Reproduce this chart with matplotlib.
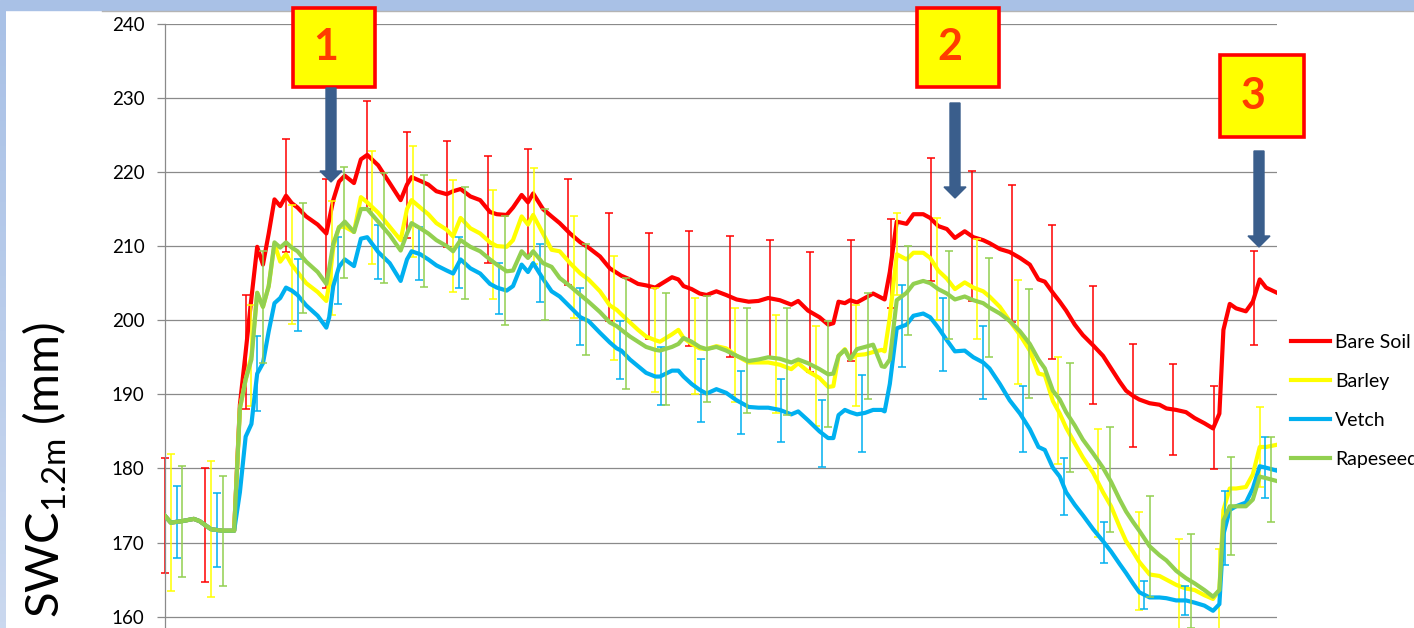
import numpy as np
import matplotlib
matplotlib.use("Agg")
import matplotlib.pyplot as plt
from matplotlib.patches import Rectangle, FancyArrow
from matplotlib.lines import Line2D

plt.rcParams['font.family'] = ['Lato', 'DejaVu Sans']
plt.rcParams['mathtext.default'] = 'regular'

# days since first reading (daily series)
DAY = [0, 1, 3, 5, 6, 8, 10, 12, 13, 14,
       15, 16, 17, 18, 19, 20, 21, 22, 23, 24.5,
       26.5, 28, 28.5, 29.2, 30.2, 31.2, 32.8, 34, 35.1, 37,
       39, 40.9, 42, 42.8, 44.3, 45.7, 47.1, 48.9, 50, 51.3,
       53, 54.7, 56.4, 57.6, 59.3, 60.4, 61.9, 63, 63.9, 65.6,
       67.1, 68.5, 70.3, 72.1, 73.5, 75.5, 77.2, 78.4, 79.2, 80.7,
       82.1, 83.5, 85.1, 85.9, 88, 89.1, 90, 91.4, 92.8, 94,
       95.7, 97.4, 99.2, 101.3, 103, 104.7, 106.7, 108.7, 109.9, 111.6,
       113.6, 115.1, 116, 116.9, 118, 118.9, 120.1, 121.5, 122.9, 124.4,
       124.9, 125.8, 127, 128.7, 129.9, 131.6, 132.8, 134.2, 135.7, 137.1,
       138.8, 140.3, 142, 143.1, 144.9, 146.6, 148.4, 150.1, 151.6, 152.7,
       154.1, 155.3, 156.4, 157.9, 159.3, 161.1, 162.8, 164.2, 165.7, 166.8,
       168, 169.1, 170.9, 172.6, 173.8, 175.5, 177.2, 178.7, 180.4, 181.9,
       183, 183.7, 184.8, 185.9, 187.6, 188.8, 190, 191.1, 193]

bare_soil = [173.6, 172.7, 172.9, 173.2, 172.9, 171.8, 171.6, 171.6, 188.6, 195.7,
             203.0, 209.9, 207.5, 211.7, 216.3, 215.4, 216.8, 215.8, 215.2, 214.0,
             212.9, 211.7, 213.6, 216.2, 218.7, 219.5, 218.5, 221.7, 222.3, 220.9,
             218.5, 216.2, 218.3, 219.3, 218.8, 218.3, 217.4, 217.0, 217.4, 217.7,
             216.7, 216.2, 214.6, 214.3, 214.2, 215.2, 216.9, 215.9, 217.1, 215.0,
             214.0, 213.1, 211.7, 210.5, 209.8, 208.6, 207.0, 206.4, 206.0, 205.5,
             204.9, 204.7, 204.4, 204.8, 205.8, 205.5, 204.6, 204.2, 203.6, 203.4,
             203.9, 203.4, 202.8, 202.5, 202.6, 203.0, 202.7, 202.1, 202.6, 201.3,
             200.4, 199.4, 199.6, 202.5, 202.3, 202.7, 202.4, 203.0, 203.6, 203.0,
             202.8, 206.5, 213.3, 213.0, 214.3, 214.3, 213.8, 212.7, 212.3, 211.1,
             212.0, 211.2, 210.8, 210.4, 209.6, 209.2, 208.4, 207.5, 205.5, 205.2,
             203.7, 202.5, 201.3, 199.4, 198.0, 196.6, 195.2, 193.5, 191.7, 190.5,
             189.8, 189.3, 188.8, 188.6, 188.1, 187.9, 187.6, 186.8, 186.1, 185.4,
             187.4, 198.7, 202.2, 201.6, 201.2, 202.5, 205.5, 204.4, 203.7]

barley = [173.6, 172.7, 172.9, 173.2, 172.9, 171.8, 171.6, 171.6, 188.1, 192.0,
          195.2, 203.7, 201.8, 204.6, 210.3, 207.9, 208.9, 207.5, 206.5, 205.0,
          203.8, 202.6, 205.0, 209.8, 212.6, 212.6, 211.9, 216.6, 215.9, 214.5,
          212.6, 210.8, 215.0, 216.2, 215.2, 214.3, 213.1, 212.2, 211.3, 213.8,
          212.4, 211.7, 210.5, 210.0, 209.9, 210.8, 214.0, 212.9, 214.2, 211.7,
          209.5, 209.3, 207.7, 206.3, 205.5, 203.9, 202.0, 201.4, 200.8, 199.7,
          198.7, 197.8, 197.3, 197.1, 198.1, 198.7, 197.6, 196.8, 196.2, 196.1,
          196.5, 196.2, 195.2, 194.3, 194.3, 194.3, 194.0, 193.4, 194.2, 193.1,
          192.2, 191.0, 191.1, 195.2, 196.1, 194.8, 195.3, 195.4, 195.7, 196.0,
          195.8, 200.4, 208.9, 208.2, 209.1, 209.1, 208.4, 206.7, 205.6, 204.2,
          205.1, 204.4, 203.9, 203.2, 201.8, 199.9, 198.0, 195.9, 192.8, 192.6,
          189.1, 187.4, 185.5, 183.4, 181.5, 179.4, 176.8, 174.9, 172.1, 170.2,
          168.8, 167.4, 165.7, 165.5, 165.0, 164.3, 163.8, 163.6, 162.9, 162.4,
          163.6, 174.4, 177.3, 177.3, 177.5, 179.2, 182.9, 182.9, 183.2]

vetch = [173.6, 172.7, 172.9, 173.2, 172.9, 171.8, 171.6, 171.6, 176.8, 184.3,
         186.0, 192.8, 194.2, 198.5, 202.3, 203.0, 204.4, 204.0, 203.4, 202.0,
         200.6, 199.0, 200.4, 204.6, 207.2, 208.2, 207.3, 211.0, 211.2, 209.2,
         207.7, 205.3, 208.2, 209.3, 208.9, 208.2, 207.4, 206.7, 206.3, 208.2,
         207.0, 206.3, 204.9, 204.4, 204.0, 204.6, 207.5, 206.5, 207.7, 205.6,
         203.9, 203.2, 201.8, 200.4, 199.9, 198.3, 197.0, 196.2, 195.9, 194.7,
         193.8, 192.9, 192.4, 192.4, 193.2, 193.2, 192.4, 191.4, 190.6, 190.1,
         190.7, 190.2, 189.2, 188.3, 188.2, 188.2, 187.9, 187.3, 187.7, 186.5,
         185.0, 184.1, 184.1, 187.2, 187.9, 187.6, 187.3, 187.5, 187.9, 187.9,
         187.7, 191.4, 198.9, 199.4, 200.6, 200.9, 200.4, 199.0, 197.3, 195.8,
         195.9, 195.0, 194.3, 193.5, 191.4, 189.2, 187.4, 185.3, 182.9, 182.5,
         180.1, 178.9, 176.8, 175.1, 173.7, 171.8, 170.2, 168.8, 167.1, 165.9,
         164.5, 163.3, 162.6, 162.6, 162.5, 162.2, 162.2, 161.9, 161.5, 160.8,
         161.7, 171.1, 174.4, 174.9, 175.4, 177.3, 180.3, 180.1, 179.7]

rapeseed = [173.6, 172.7, 172.9, 173.2, 172.9, 171.8, 171.6, 171.6, 188.1, 192.0,
            194.7, 203.7, 201.8, 204.6, 210.5, 209.8, 210.5, 209.8, 209.3, 207.9,
            206.5, 204.9, 207.0, 210.3, 212.5, 213.3, 211.9, 215.0, 215.0, 213.3,
            211.5, 209.4, 211.7, 213.1, 212.4, 211.7, 210.8, 210.0, 209.3, 210.8,
            209.9, 209.3, 208.2, 207.5, 206.6, 206.7, 209.3, 208.4, 209.3, 207.7,
            207.2, 205.7, 204.6, 203.4, 202.5, 201.1, 199.7, 199.2, 198.7, 197.8,
            197.1, 196.4, 196.0, 195.9, 196.4, 196.8, 197.6, 197.1, 196.4, 196.1,
            196.4, 195.9, 195.2, 194.5, 194.7, 195.0, 194.8, 194.3, 194.7, 194.2,
            193.4, 192.7, 192.8, 195.2, 196.0, 194.7, 196.1, 196.4, 196.7, 193.8,
            193.7, 194.7, 202.7, 203.7, 204.9, 205.3, 205.0, 204.2, 203.6, 202.8,
            203.2, 202.7, 202.3, 201.7, 200.9, 199.9, 198.5, 196.8, 194.7, 193.5,
            190.5, 189.3, 187.6, 185.8, 183.9, 182.0, 180.1, 178.2, 175.8, 174.2,
            172.8, 171.6, 169.5, 168.3, 167.6, 166.2, 165.2, 164.5, 163.6, 162.7,
            163.6, 173.0, 174.9, 174.9, 174.9, 175.8, 178.9, 178.7, 178.3]

# weekly standard deviations (bars shifted by one day per treatment)
WEEK = np.arange(28) * 7
sd_bare = [7.75, 7.65, 7.7, 7.6, 7.4, 7.3, 7.15, 7.2, 7.2, 7.2, 7.15, 7.25, 7.15, 7.75,
           8.1, 7.9, 8.1, 8.15, 6.0, 8.3, 8.8, 9.25, 9.1, 8.0, 6.95, 6.2, 5.6, 6.4]
sd_barley = [9.2, 9.2, 6.8, 8.0, 7.7, 7.65, 7.5, 7.55, 7.35, 6.5, 6.9, 7.0, 6.95, 6.45,
             6.4, 6.6, 6.8, 6.85, 5.5, 6.9, 6.75, 7.0, 7.25, 7.3, 6.65, 6.3, 5.5, 5.35]
sd_vetch = [4.9, 5.0, 5.05, 4.9, 4.5, 3.7, 3.55, 3.45, 3.4, 3.95, 3.85, 3.9, 3.9, 4.2,
            4.25, 4.3, 4.5, 5.15, 5.55, 4.95, 4.9, 4.5, 3.8, 2.75, 1.85, 1.9, 5.0, 4.15]
sd_rape = [7.5, 7.45, 7.55, 7.4, 7.5, 7.4, 7.55, 7.55, 7.35, 7.5, 7.5, 7.5, 7.55, 7.1,
           7.1, 7.2, 7.2, 7.15, 5.95, 5.95, 6.65, 7.35, 7.4, 7.1, 6.8, 6.35, 6.6, 5.75]

names = ["Bare Soil", "Barley", "Vetch", "Rapeseed"]
series = [bare_soil, barley, vetch, rapeseed]
sds = [sd_bare, sd_barley, sd_vetch, sd_rape]
colors = ["#ff0000", "#ffff00", "#00b0f0", "#92d050"]

W, H = 1414, 628


def fx(px):
    return px / W


def fy(py):
    return 1 - py / H


fig = plt.figure(figsize=(W / 100, H / 100), dpi=100)
fig.patch.set_facecolor("white")

# slide background strips
fig.patches.append(Rectangle((0, fy(10)), 1, 10 / H, transform=fig.transFigure,
                             color="#a9c1e6", zorder=0))
fig.lines.append(Line2D([fx(102), 1], [fy(11), fy(11)], transform=fig.transFigure,
                        color="#b4b4b4", lw=1))
strip = fig.add_axes([0, 0, fx(6), fy(10)])
strip.imshow(np.linspace(0, 1, 100).reshape(-1, 1), aspect="auto",
             cmap=matplotlib.colors.LinearSegmentedColormap.from_list("s", ["#a9c1e6", "#cad8ef"]))
strip.axis("off")

ax = fig.add_axes([fx(165), 0, fx(1277) - fx(165), fy(23.7)])
ax.set_xlim(0, 193)
ax.set_ylim(158.48, 240)
ax.set_yticks(np.arange(160, 241, 10))
ax.set_xticks([])
ax.grid(axis="y", color="#8a8a8a", lw=0.9)
ax.set_axisbelow(True)
for s in ["top", "right", "bottom"]:
    ax.spines[s].set_visible(False)
ax.spines["left"].set_color("#8a8a8a")
ax.spines["left"].set_linewidth(0.9)
ax.tick_params(axis="y", length=5.8, width=0.9, color="#8a8a8a", pad=9,
               labelsize=13.5, labelcolor="black")

handles = []
for i, (name, vals, sd, c) in enumerate(zip(names, series, sds, colors)):
    bx = WEEK + i
    by = np.interp(bx, DAY, vals)
    ax.errorbar(bx, by, yerr=sd, fmt="none", ecolor=c, elinewidth=1.1,
                capsize=2.8, capthick=1.1, zorder=2 + i, clip_on=False)
    ln, = ax.plot(DAY, vals, color=c, lw=3, zorder=2.5 + i, label=name,
                  solid_joinstyle="round")
    handles.append(ln)

ax.legend(handles=handles, loc="center left", bbox_to_anchor=(fx(1291), fy(401)),
          bbox_transform=fig.transFigure, frameon=False, fontsize=14,
          handlelength=2.0, handletextpad=0.26, labelspacing=1.13,
          borderpad=0, borderaxespad=0)

fig.text(fx(45), fy(470), r"SWC$_{1.2m}$ (mm)", rotation=90, fontsize=34,
         ha="center", va="center")

# numbered boxes and arrows
boxes = [("1", 293, 8, 375, 87, 326), ("2", 917, 8, 999, 87, 950),
         ("3", 1220, 55, 1304, 137, 1253)]
for label, x0, y0, x1, y1, tx in boxes:
    fig.patches.append(Rectangle((fx(x0), fy(y1)), fx(x1) - fx(x0), (y1 - y0) / H,
                                 transform=fig.transFigure, facecolor="#ffff00",
                                 edgecolor="#ff0000", lw=2.6, zorder=10))
    fig.text(fx(tx), fy((y0 + y1) / 2), label, fontsize=31, fontweight="bold",
             color="#ff3c00", ha="center", va="center", zorder=11)

arrows = [(331, 88, 182), (955, 103, 198), (1259, 151, 247)]
for ax_x, top, tip in arrows:
    fig.patches.append(FancyArrow(fx(ax_x), fy(top), 0, fy(tip) - fy(top),
                                  width=10 / W, head_width=22 / W, head_length=11 / H,
                                  length_includes_head=True, transform=fig.transFigure,
                                  color="#3a5e8c", zorder=10))

fig.savefig("out.png", dpi=100)
